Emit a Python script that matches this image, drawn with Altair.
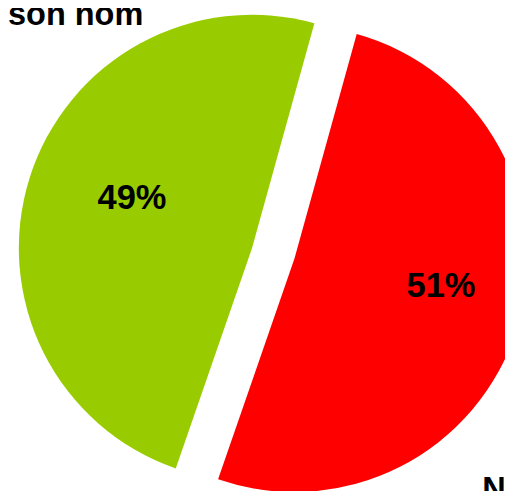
import math
import altair as alt
import pandas as pd

# Data
categories = ["Rouge", "Vert"]
values = [51, 49]
colors = ["#ff0000", "#99cc00"]
order = [1, 2]
title_text = "son nom"
corner_text = "N"

df = pd.DataFrame({"cat": categories, "value": values, "order": order})

START = 0.2705  # rotation of first slice (radians, clockwise from 12 o'clock)
R = 237
FONT = "Liberation Sans"

base = (
    alt.Chart(df)
    .transform_joinaggregate(total="sum(value)")
    .transform_window(cum="sum(value)", sort=[alt.SortField("order")])
    .transform_calculate(
        t1=f"{START} + 2*PI*datum.cum/datum.total",
        t0=f"{START} + 2*PI*(datum.cum - datum.value)/datum.total",
        lab="datum.value + '%'",
    )
)

# per-slice centres (exploded red slice) and label positions
centres = {"Rouge": (291, 251), "Vert": (248, 240)}
label_pos = {"Rouge": (440, 290), "Vert": (126, 200)}

layers = []
for cat, col in zip(categories, colors):
    cx, cy = centres[cat]
    layers.append(
        base.transform_filter(alt.datum.cat == cat)
        .mark_arc(radius=R, stroke=None)
        .encode(
            theta=alt.Theta("t0:Q", scale=None, stack=None),
            theta2="t1:Q",
            x=alt.value(cx),
            y=alt.value(cy),
            color=alt.value(col),
        )
    )
for cat in categories:
    lx, ly = label_pos[cat]
    layers.append(
        base.transform_filter(alt.datum.cat == cat)
        .mark_text(font=FONT, fontSize=35, fontWeight="bold", color="black",
                   align="center", baseline="alphabetic")
        .encode(text="lab:N", x=alt.value(lx), y=alt.value(ly))
    )

title = (
    alt.Chart(pd.DataFrame({"t": [title_text]}))
    .mark_text(font=FONT, fontSize=33, fontWeight="bold", color="black",
               align="left", baseline="alphabetic")
    .encode(text="t:N", x=alt.value(0), y=alt.value(13))
)
corner = (
    alt.Chart(pd.DataFrame({"t": [corner_text]}))
    .mark_text(font=FONT, fontSize=33, fontWeight="bold", color="black",
               align="left", baseline="alphabetic")
    .encode(text="t:N", x=alt.value(482), y=alt.value(496))
)

chart = (
    alt.layer(*layers, title, corner)
    .properties(width=505, height=483, padding=0, autosize=alt.AutoSizeParams(type="none"))
    .configure_view(stroke=None)
)

chart.save("out.html", embed_options={"renderer": "svg", "actions": False})
